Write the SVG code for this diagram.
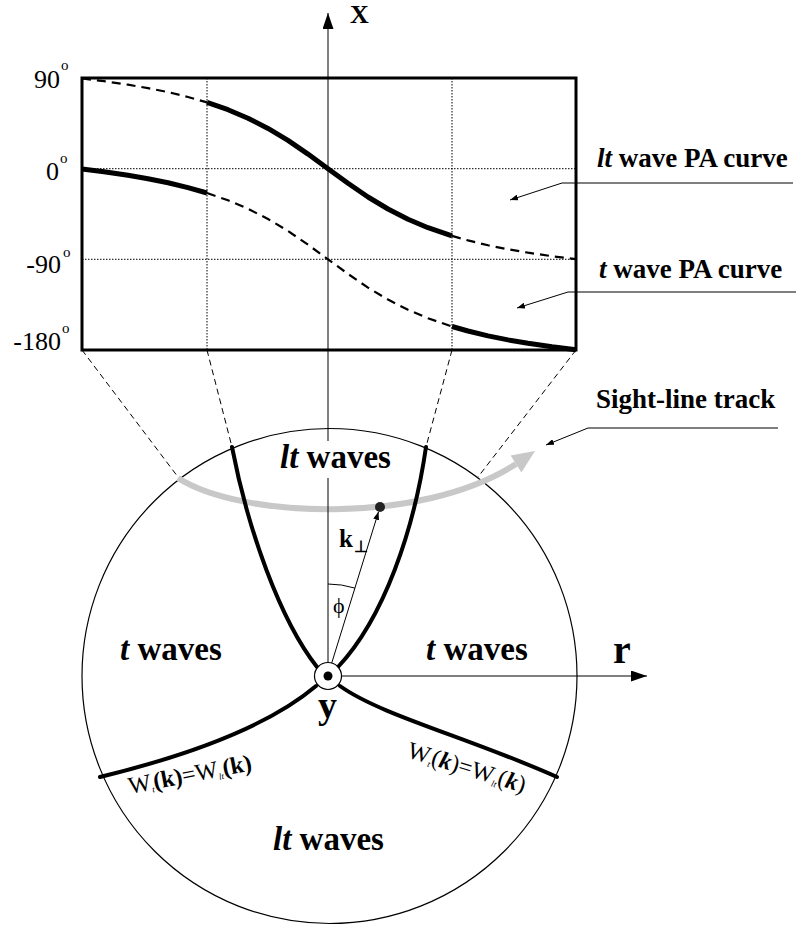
<svg xmlns="http://www.w3.org/2000/svg" width="796" height="925" viewBox="0 0 796 925">
<defs>
<style>
text{font-family:'Liberation Serif','Times New Roman',serif;fill:#000}
.b{font-weight:bold}
.i{font-style:italic}
.thin{fill:none;stroke:#000;stroke-width:1}
.grid{fill:none;stroke:#000;stroke-width:1;stroke-dasharray:1.5,1.5}
.proj{fill:none;stroke:#000;stroke-width:1;stroke-dasharray:6,4}
.solid{fill:none;stroke:#000;stroke-width:5;stroke-linejoin:round}
.dash{fill:none;stroke:#000;stroke-width:2.2;stroke-dasharray:9,6}
.bound{fill:none;stroke:#000;stroke-width:4;stroke-linecap:round}
</style>
<marker id="sm" viewBox="0 0 8 6" refX="8" refY="3" markerWidth="8" markerHeight="6" markerUnits="userSpaceOnUse" orient="auto">
<path d="M0,0 L8,3 L0,6 z" fill="#000"/>
</marker>
<marker id="ax" viewBox="0 0 16 11" refX="16" refY="5.5" markerWidth="16" markerHeight="11" markerUnits="userSpaceOnUse" orient="auto">
<path d="M0,0 L16,5.5 L0,11 z" fill="#000"/>
</marker>
</defs>
<rect width="796" height="925" fill="#fff"/>

<g id="plot">
<line class="grid" x1="207" y1="78" x2="207" y2="350"/>
<line class="grid" x1="452" y1="78" x2="452" y2="350"/>
<line class="grid" x1="82" y1="168.7" x2="576" y2="168.7"/>
<line class="grid" x1="82" y1="259.3" x2="576" y2="259.3"/>
<polyline class="dash" points="82,78.5 104,81.2 128,84.7 148,88.1 168,92.1 188,97.0 207,102.4"/>
<polyline class="solid" points="207,102.4 228,109.7 248,118.2 268,128.4 288,140.4 308,154.1 328,168.7 348,183.3 368,197.0 388,209.0 408,219.2 428,227.7 452,235.9"/>
<polyline class="dash" points="452,235.9 468,240.4 488,245.3 508,249.3 528,252.7 552,256.2 576,259.1"/>
<polyline class="solid" points="82,169.1 104,171.8 128,175.3 148,178.7 168,182.7 188,187.6 207,193.0"/>
<polyline class="dash" points="207,193.0 228,200.3 248,208.8 268,219.0 288,231.0 308,244.7 328,259.3 348,273.9 368,287.6 388,299.6 408,309.8 428,318.3 452,326.5"/>
<polyline class="solid" points="452,326.5 468,331.0 488,335.9 508,339.9 528,343.3 552,346.8 576,349.7"/>
<rect x="82" y="78" width="494" height="272" fill="none" stroke="#000" stroke-width="3"/>
<text x="60" y="88" font-size="26" text-anchor="end">90</text>
<text x="61" y="70" font-size="15">o</text>
<text x="59" y="180" font-size="26" text-anchor="end">0</text>
<text x="60" y="163" font-size="15">o</text>
<text x="61" y="273" font-size="26" text-anchor="end">-90</text>
<text x="63" y="257" font-size="15">o</text>
<text x="61" y="350" font-size="26" text-anchor="end">-180</text>
<text x="62" y="333" font-size="15">o</text>
</g>

<g id="projection-lines">
<line class="proj" x1="82" y1="350" x2="178" y2="477"/>
<line class="proj" x1="207" y1="350" x2="232" y2="447"/>
<line class="proj" x1="452" y1="350" x2="426" y2="447"/>
<line class="proj" x1="576" y1="350" x2="478" y2="477"/>
</g>

<g id="wave-circle">
<circle cx="329.5" cy="676" r="247.5" fill="none" stroke="#000" stroke-width="1.2"/>
</g>

<g id="sight-line-track">
<path d="M178,478 C240,518 420,526 516,464" fill="none" stroke="#c8c8c8" stroke-width="6"/>
<polygon points="535,451 521.4,472.4 510.6,455.6" fill="#c8c8c8"/>
</g>

<g id="boundaries">
<path class="bound" d="M232,447 C248,530 280,620 317,667"/>
<path class="bound" d="M426,447 C414,530 384,618 338,667"/>
<path class="bound" d="M316,686 C270,725 190,755 100,777"/>
<path class="bound" d="M340,686 C380,715 470,738 557,777"/>
</g>

<g id="connectors">
<line class="thin" x1="328" y1="441" x2="328" y2="13" marker-end="url(#ax)"/>
<line class="thin" x1="328" y1="478" x2="328" y2="662.5"/>
<line class="thin" x1="341.2" y1="676" x2="647" y2="676" marker-end="url(#ax)"/>
<line class="thin" x1="331.7" y1="663.1" x2="378.5" y2="511.8" marker-end="url(#sm)"/>
<path class="thin" d="M328,584 A92,92 0 0 1 354.9,588.1"/>
<polyline class="thin" points="793,183 562,183 510,200" marker-end="url(#sm)"/>
<polyline class="thin" points="796,292 568,292 517,308" marker-end="url(#sm)"/>
<polyline class="thin" points="778,428 588,428 546,445" marker-end="url(#sm)"/>
</g>

<g id="origin">
<circle cx="328" cy="676" r="13.5" fill="#fff" stroke="#000" stroke-width="1.2"/>
<circle cx="328" cy="676" r="4.5" fill="#000"/>
</g>

<g id="k-point">
<circle cx="380" cy="507" r="5" fill="#222"/>
</g>

<g id="labels">
<text class="b" x="350" y="23" font-size="26">X</text>
<text class="b" x="613" y="663" font-size="40">r</text>
<text class="b" x="318" y="718" font-size="38">y</text>
<text class="b" x="339" y="547" font-size="25">k<tspan font-size="16" dx="1" dy="5">⊥</tspan></text>
<text x="333" y="613" font-size="22">ϕ</text>
<text class="b" x="280" y="468" font-size="33"><tspan class="i">lt</tspan> waves</text>
<text class="b" x="120" y="660" font-size="33"><tspan class="i">t</tspan> waves</text>
<text class="b" x="426" y="660" font-size="33"><tspan class="i">t</tspan> waves</text>
<text class="b" x="273" y="850" font-size="33"><tspan class="i">lt</tspan> waves</text>
<text class="b" x="597" y="167" font-size="27"><tspan class="i">lt</tspan> wave PA curve</text>
<text class="b" x="599" y="278" font-size="27"><tspan class="i">t</tspan> wave PA curve</text>
<text class="b" x="596" y="408" font-size="27">Sight-line track</text>
<text font-size="24" transform="translate(130,794) rotate(-11)">W<tspan font-size="9" class="i" dy="3">t</tspan><tspan class="b" dy="-3">(k)</tspan>=W<tspan font-size="9" class="i" dy="3">lt</tspan><tspan class="b" dy="-3">(k)</tspan></text>
<text font-size="24" transform="translate(406,757) rotate(17)">W<tspan font-size="9" class="i" dy="3">t</tspan><tspan dy="-3">(</tspan><tspan class="b i">k</tspan>)=W<tspan font-size="9" class="i" dy="3">lt</tspan><tspan dy="-3">(</tspan><tspan class="b i">k</tspan>)</text>
</g>
</svg>
